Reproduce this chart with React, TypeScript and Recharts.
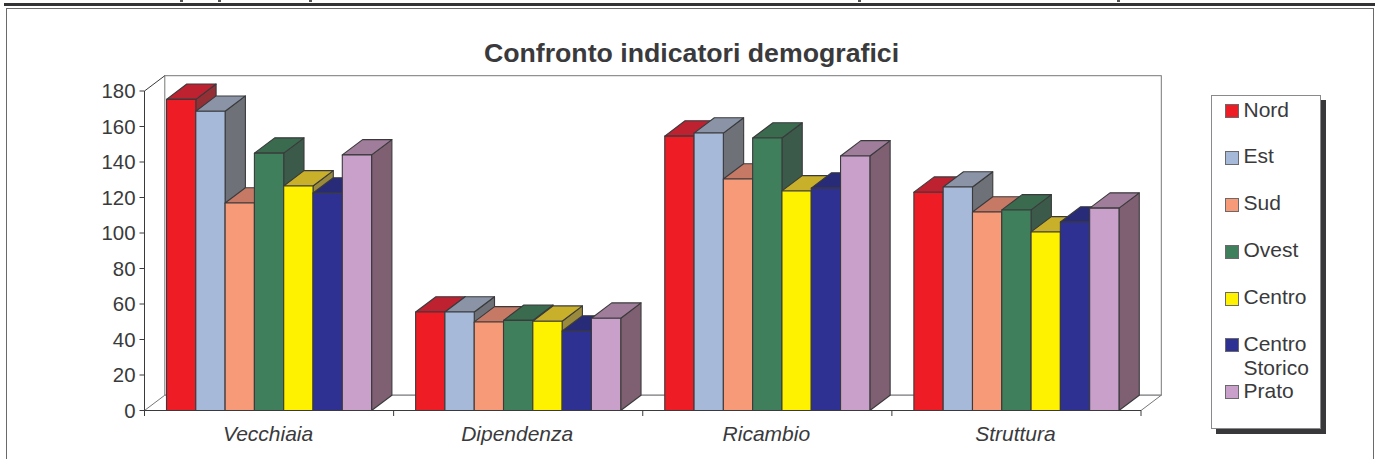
import React from "react";
import { ComposedChart, Bar, XAxis, YAxis, Legend, Customized } from "recharts";

const categories = ["Vecchiaia", "Dipendenza", "Ricambio", "Struttura"];
const nord = [175.3, 55.5, 154.6, 123];
const est = [168.6, 55.5, 156.3, 125.9];
const sud = [116.9, 49.9, 130.4, 111.8];
const ovest = [145, 50.8, 153.5, 113];
const centro = [126.5, 50.3, 123.7, 100.6];
const centroStorico = [122.5, 44.8, 125.3, 106.2];
const prato = [144, 52, 143.4, 114];
const yTicks = [0, 20, 40, 60, 80, 100, 120, 140, 160, 180];

const seriesList = [
  { key: "Nord", values: nord, fill: "#ee1c25", top: "#be2130", side: "#952f36" },
  { key: "Est", values: est, fill: "#a6b9d8", top: "#8a94a6", side: "#6e7177" },
  { key: "Sud", values: sud, fill: "#f79a78", top: "#c67a66", side: "#a06b5c" },
  { key: "Ovest", values: ovest, fill: "#3f7f5b", top: "#3a6b4f", side: "#3c5a4a" },
  { key: "Centro", values: centro, fill: "#fff200", top: "#c9b02a", side: "#9a8a3c" },
  { key: "Centro Storico", values: centroStorico, fill: "#2e3192", top: "#282b78", side: "#25275f" },
  { key: "Prato", values: prato, fill: "#c8a0ca", top: "#a07d9a", side: "#7f6072" },
];

const tableRows = categories.map((name, i) => {
  const row: Record<string, string | number> = { name };
  seriesList.forEach((s) => (row[s.key] = s.values[i]));
  return row;
});

const W = 1377;
const H = 459;
const FONT = '"Liberation Sans", Arial, Helvetica, sans-serif';
const INK = "#3a3a3c";
const WALL = "#77777a";
const PLOT_LEFT = 144.5;
const PLOT_TOP = 91;
const PLOT_RIGHT = 1141;
const PLOT_BOTTOM = 410.5;
const DX = 20.3;
const DY = 15.3;
const BAND = (PLOT_RIGHT - PLOT_LEFT) / categories.length;
const clippedInkMarks = [180, 218, 309, 858, 1117];

const make3D = (top: string, side: string) => (props: any) => {
  const { x, y, width, height, fill } = props;
  const r = x + width;
  const b = y + height;
  return (
    <g stroke={INK} strokeWidth={1.1} strokeLinejoin="round">
      <polygon points={`${r},${y} ${r + DX},${y - DY} ${r + DX},${b - DY} ${r},${b}`} fill={side} />
      <polygon points={`${x},${y} ${x + DX},${y - DY} ${r + DX},${y - DY} ${r},${y}`} fill={top} />
      <rect x={x} y={y} width={width} height={height} fill={fill} />
    </g>
  );
};

const Walls = () => (
  <g>
    <rect
      x={PLOT_LEFT + DX}
      y={PLOT_TOP - DY}
      width={PLOT_RIGHT - PLOT_LEFT}
      height={PLOT_BOTTOM - PLOT_TOP}
      fill="#fff"
      stroke={WALL}
      strokeWidth={1}
    />
    <polygon
      points={`${PLOT_LEFT},${PLOT_BOTTOM} ${PLOT_LEFT + DX},${PLOT_BOTTOM - DY} ${PLOT_RIGHT + DX},${PLOT_BOTTOM - DY} ${PLOT_RIGHT},${PLOT_BOTTOM}`}
      fill="#fff"
      stroke={WALL}
      strokeWidth={1}
    />
    <line x1={PLOT_LEFT} y1={PLOT_TOP} x2={PLOT_LEFT + DX} y2={PLOT_TOP - DY} stroke={INK} strokeWidth={1} />
    <text
      x={691.5}
      y={62}
      textAnchor="middle"
      fontFamily={FONT}
      fontWeight="bold"
      fontSize={26.7}
      fill={INK}
    >
      Confronto indicatori demografici
    </text>
  </g>
);

const CategoryTick = (props: any) => {
  const { x, payload, index } = props;
  const left = x - BAND / 2;
  const right = x + BAND / 2;
  return (
    <g>
      <line x1={left} x2={left} y1={PLOT_BOTTOM} y2={PLOT_BOTTOM + 5.5} stroke={INK} strokeWidth={1} />
      {index === categories.length - 1 && (
        <line x1={right} x2={right} y1={PLOT_BOTTOM} y2={PLOT_BOTTOM + 5.5} stroke={INK} strokeWidth={1} />
      )}
      <text x={x - 1} y={441} textAnchor="middle" fontFamily={FONT} fontStyle="italic" fontSize={21} fill={INK}>
        {payload.value}
      </text>
    </g>
  );
};

const LegendBox = (props: any) => (
  <div
    style={{
      boxSizing: "border-box",
      width: 110,
      height: 334,
      background: "#fff",
      border: "1px solid #8a8a8c",
      boxShadow: "5px 5px 0 #38383a",
      paddingLeft: 13,
      paddingTop: 8,
      fontFamily: FONT,
      fontSize: 21,
      color: INK,
      lineHeight: "24px",
    }}
  >
    {props.payload.map((item: any) => (
      <div key={item.value} style={{ display: "flex", height: 46.9, alignItems: "flex-start" }}>
        <span
          style={{
            boxSizing: "border-box",
            flex: "none",
            width: 14,
            height: 14,
            marginRight: 5,
            background: item.color,
            border: "1px solid #6a6a6c",
          }}
        />
        <span style={{ marginTop: -6.5, whiteSpace: "normal", width: 70 }}>{item.value}</span>
      </div>
    ))}
  </div>
);

export default function App() {
  return (
    <div style={{ position: "absolute", left: 0, top: 0, width: W, height: H, overflow: "hidden", background: "#fff" }}>
      {clippedInkMarks.map((x) => (
        <div key={x} style={{ position: "absolute", left: x, top: 0, width: 3, height: 2, background: "#555557" }} />
      ))}
      <div style={{ position: "absolute", left: 4, top: 3, width: 1371, height: 3, background: "#333335" }} />
      <div
        style={{
          position: "absolute",
          left: 6,
          top: 8,
          width: 1368,
          height: 480,
          boxSizing: "border-box",
          border: "1.5px solid #6a6a6c",
        }}
      />
      <div style={{ position: "absolute", left: 0, top: 0 }}>
        <ComposedChart
          width={W}
          height={H}
          data={tableRows}
          margin={{ top: PLOT_TOP, right: W - PLOT_RIGHT, left: 0, bottom: 0 }}
          barGap={0}
          barSize={29.3}
          style={{ background: "transparent" }}
        >
          <Customized component={Walls} />
          <XAxis
            dataKey="name"
            height={H - PLOT_BOTTOM}
            interval={0}
            tickLine={false}
            axisLine={{ stroke: INK, strokeWidth: 1.2 }}
            tick={<CategoryTick />}
          />
          <YAxis
            type="number"
            domain={[0, 180]}
            ticks={yTicks}
            interval={0}
            width={PLOT_LEFT}
            tickSize={5}
            tickMargin={4}
            tickLine={{ stroke: INK, strokeWidth: 1 }}
            axisLine={{ stroke: INK, strokeWidth: 1 }}
            tick={{ fontFamily: FONT, fontSize: 20.4, fill: INK }}
          />
          <Legend
            layout="vertical"
            align="center"
            verticalAlign="middle"
            itemSorter={null}
            content={<LegendBox />}
            wrapperStyle={{ position: "absolute", left: 1210.5, top: 95, width: 115, height: 340, margin: 0 }}
          />
          {seriesList.map((s) => (
            <Bar
              key={s.key}
              dataKey={s.key}
              name={s.key}
              fill={s.fill}
              shape={make3D(s.top, s.side)}
              isAnimationActive={false}
            />
          ))}
        </ComposedChart>
      </div>
    </div>
  );
}
